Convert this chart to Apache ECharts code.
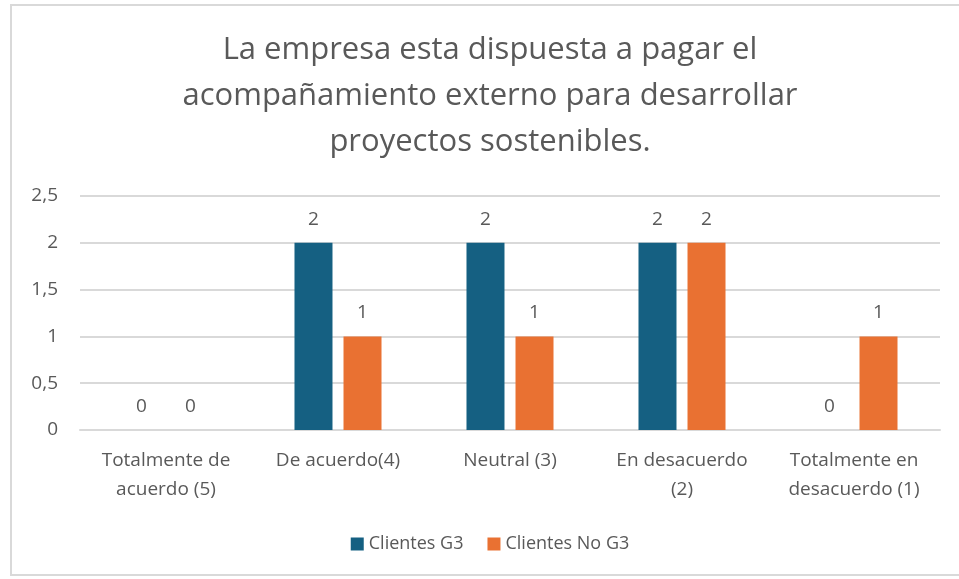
<!DOCTYPE html>
<html lang="es">
<head>
    <meta charset="UTF-8">
    <title>Disposición a pagar</title>
    <script src="https://cdn.jsdelivr.net/npm/echarts@6/dist/echarts.min.js"></script>
    <style>
        body { margin: 0; background: #fff; }
        #main { position: absolute; left: 10px; top: 4px; width: 960px; height: 572px;
                border: 2px solid #d9d9d9; box-sizing: border-box; }
    </style>
</head>
<body>
<div id="main"></div>
<script type="text/javascript">
    // datos de la encuesta
    var categorias = ['Totalmente de\nacuerdo (5)', 'De acuerdo(4)', 'Neutral (3)', 'En desacuerdo\n(2)', 'Totalmente en\ndesacuerdo (1)'];
    var clientesG3 = [0, 2, 2, 2, 0];
    var clientesNoG3 = [0, 1, 1, 2, 1];
    var fuente = 'Open Sans';
    var gris = '#595959';

    var myChart = echarts.init(document.getElementById('main'));
    var option = {
        title: {
            text: 'La empresa esta dispuesta a pagar el\nacompañamiento externo para desarrollar\nproyectos sostenibles.',
            left: 'center',
            top: 16,
            textStyle: { fontFamily: fuente, fontSize: 31, fontWeight: 'normal', color: gris, lineHeight: 46 }
        },
        legend: {
            bottom: 16,
            left: 'center',
            itemWidth: 13,
            itemHeight: 13,
            itemGap: 24,
            icon: 'rect',
            textStyle: { fontFamily: fuente, fontSize: 18, color: gris }
        },
        grid: { left: 68, right: 28, top: 190, bottom: 144 },
        xAxis: {
            type: 'category',
            data: categorias,
            axisLine: { lineStyle: { color: '#d9d9d9', width: 2 } },
            axisTick: { show: false },
            axisLabel: { fontFamily: fuente, fontSize: 19, color: gris, margin: 16, lineHeight: 29, interval: 0 }
        },
        yAxis: {
            type: 'value',
            min: 0,
            max: 2.5,
            interval: 0.5,
            axisLabel: {
                fontFamily: fuente, fontSize: 19, color: gris, margin: 22,
                formatter: function (v) { return String(v).replace('.', ','); }
            },
            splitLine: { lineStyle: { color: '#d9d9d9', width: 2 } }
        },
        series: [{
            name: 'Clientes G3',
            type: 'bar',
            data: clientesG3,
            barWidth: 38,
            barGap: '29%',
            itemStyle: { color: '#156082' },
            label: { show: true, position: 'top', distance: 14, fontFamily: fuente, fontSize: 19, color: gris }
        }, {
            name: 'Clientes No G3',
            type: 'bar',
            data: clientesNoG3,
            barWidth: 38,
            itemStyle: { color: '#e97132' },
            label: { show: true, position: 'top', distance: 14, fontFamily: fuente, fontSize: 19, color: gris }
        }]
    };
    myChart.setOption(option);
</script>
</body>
</html>
